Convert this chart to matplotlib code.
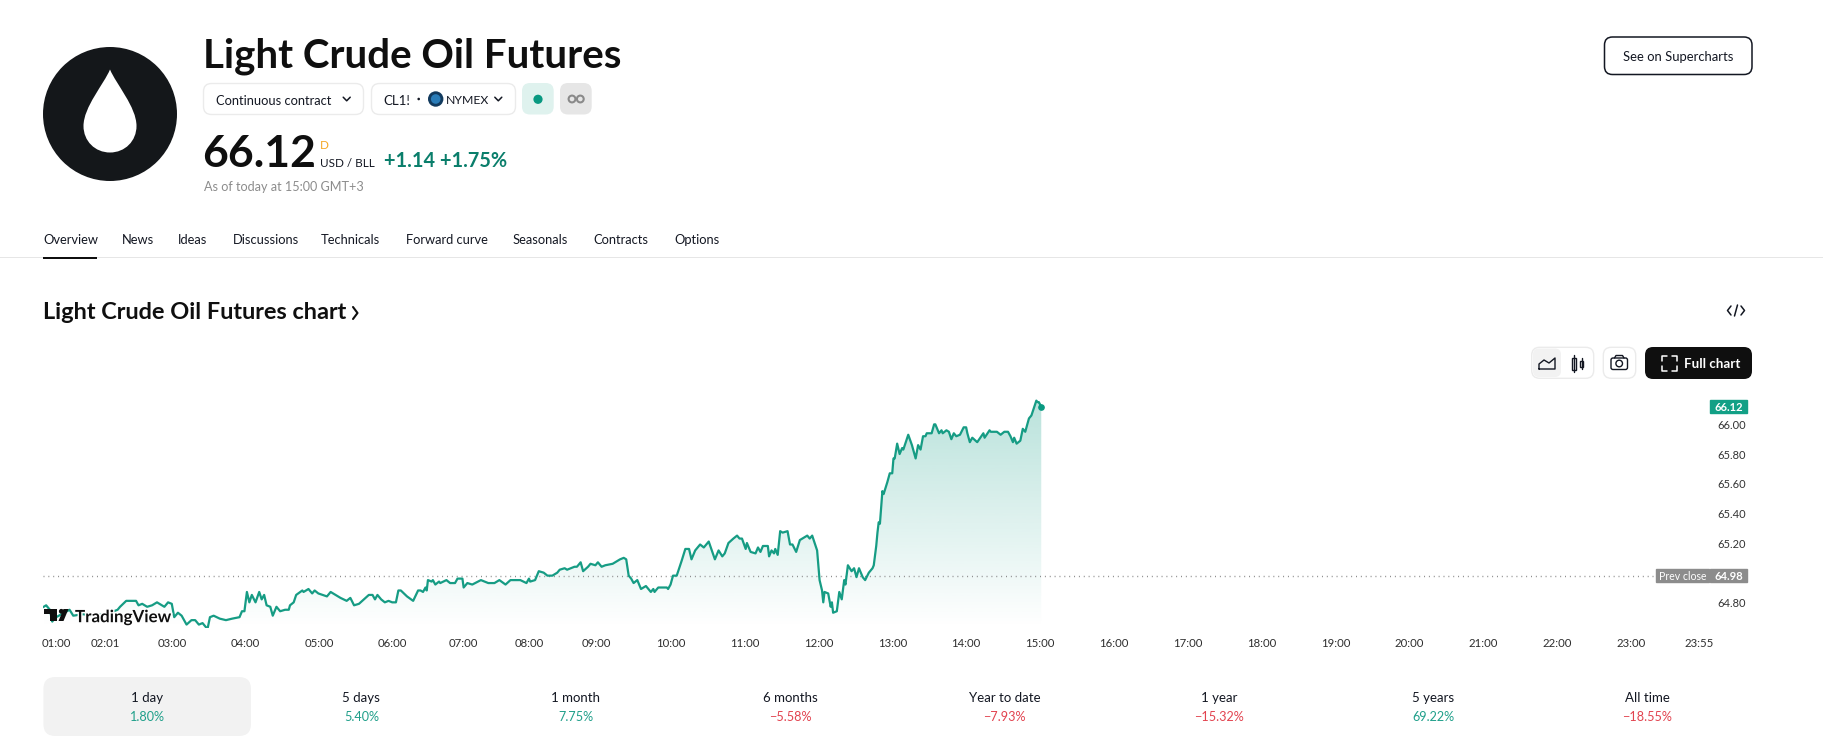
import matplotlib
matplotlib.use("Agg")
import matplotlib.pyplot as plt
import matplotlib.patheffects as pe
from matplotlib.patches import Circle, FancyBboxPatch, PathPatch, Polygon, Rectangle
from matplotlib.path import Path
import numpy as np

plt.rcParams['font.family'] = ['Lato', 'DejaVu Sans']

W, H = 1823, 753

# 1 minute bars, session gaps are left out so the index is not the clock
bar_index = [
    -10, -8, -5, -3, -2, 11, 14, 22, 30, 40, 47, 50, 52, 57, 61, 65, 67, 70, 74, 78, 82, 86, 88, 91, 94, 96, 99, 102,
    106, 110, 113, 116, 119, 123, 125, 128, 133, 138, 143, 149, 151, 153, 155, 157, 159, 162, 165, 167, 169, 171, 174,
    176, 179, 182, 186, 189,
    190, 193, 195, 200, 201, 205, 208, 210, 213, 220, 223, 231, 236, 239, 242, 246, 254, 257, 259, 261, 264, 267, 270,
    273, 276, 278, 280, 285, 290, 294, 296, 298, 300, 301, 302, 305, 306, 308, 311, 312, 317, 320, 324, 326, 330, 331,
    334, 338, 345, 351, 356, 360, 365, 369, 373, 377, 382, 384, 385, 389, 392, 396,
    399, 403, 407, 409, 413, 415, 421, 423, 426, 428, 432, 434, 438, 440, 443, 446, 452, 458, 461, 463, 465, 467, 469,
    472, 475, 479, 483, 485, 486, 489, 496, 497, 499, 501, 504, 508, 511, 514, 516, 519, 523, 526, 530, 535, 538, 541,
    543, 546, 550, 553, 555, 557, 560, 561, 564, 568, 570, 572, 574, 578, 579, 581, 583, 584, 586, 588, 590, 594, 596,
    598, 601,
    604, 606, 610, 612, 614, 618, 620, 622, 623, 624, 627, 629, 630, 631, 634, 636, 638, 640, 641, 643, 646, 648, 650,
    652, 655, 657, 660, 663,
    664, 666, 667, 668, 669, 671, 672, 675, 677, 679, 680, 681, 683, 685, 687, 688, 692, 695, 698, 700, 702, 704, 706,
    707, 709, 711, 713, 714, 717, 719, 720, 723, 725, 727, 729, 731, 734, 737, 739, 740, 742, 744, 748, 753, 754, 758,
    759, 764, 767, 770, 773, 775, 777, 778, 780, 783, 785, 787, 790, 792, 796, 797, 798, 800,
]
close_price = [
    64.77, 64.78, 64.75, 64.67, 64.69, 64.75, 64.71, 64.72, 64.71, 64.72, 64.74, 64.75, 64.77, 64.81, 64.81, 64.81,
    64.78, 64.79, 64.77, 64.78, 64.80, 64.78, 64.77, 64.80, 64.79, 64.70, 64.73, 64.71, 64.65, 64.68, 64.68, 64.65,
    64.66, 64.62, 64.70, 64.71, 64.69, 64.68, 64.69, 64.70, 64.74, 64.74, 64.87, 64.80, 64.85, 64.80, 64.87, 64.82,
    64.85, 64.78, 64.77, 64.71, 64.77, 64.74, 64.75, 64.75,
    64.78, 64.80, 64.85, 64.88, 64.87, 64.89, 64.86, 64.88, 64.86, 64.84, 64.87, 64.83, 64.81, 64.83, 64.78, 64.79,
    64.85, 64.85, 64.82, 64.85, 64.82, 64.80, 64.81, 64.80, 64.80, 64.88, 64.88, 64.84, 64.81, 64.88, 64.88, 64.87,
    64.90, 64.88, 64.95, 64.94, 64.95, 64.92, 64.94, 64.93, 64.95, 64.93, 64.93, 64.96, 64.96, 64.90, 64.93, 64.92,
    64.95, 64.93, 64.93, 64.95, 64.92, 64.95, 64.95, 64.95, 64.93, 64.96, 64.94, 64.95, 65.01, 65.00,
    64.98, 64.98, 65.00, 65.02, 65.03, 65.02, 65.04, 65.04, 65.07, 65.01, 65.04, 65.06, 65.05, 65.07, 65.04, 65.05,
    65.06, 65.09, 65.10, 65.09, 64.98, 64.96, 64.93, 64.95, 64.89, 64.91, 64.87, 64.89, 64.87, 64.90, 64.90, 64.89,
    64.92, 64.98, 64.98, 65.08, 65.16, 65.16, 65.09, 65.15, 65.19, 65.17, 65.21, 65.09, 65.15, 65.11, 65.13, 65.20,
    65.23, 65.25, 65.23, 65.23, 65.16, 65.20, 65.14, 65.13, 65.17, 65.14, 65.18, 65.18, 65.11, 65.15, 65.13, 65.16,
    65.12, 65.28, 65.27, 65.28, 65.19, 65.19, 65.14,
    65.22, 65.23, 65.25, 65.23, 65.25, 65.15, 64.95, 64.88, 64.80, 64.87, 64.86, 64.77, 64.80, 64.73, 64.74, 64.87,
    64.82, 64.95, 64.92, 65.05, 65.01, 65.03, 64.97, 65.03, 64.97, 64.95, 65.00, 65.03,
    65.05, 65.18, 65.27, 65.34, 65.33, 65.55, 65.53, 65.61, 65.67, 65.67, 65.77, 65.77, 65.87, 65.80, 65.84, 65.83,
    65.93, 65.86, 65.77, 65.86, 65.83, 65.92, 65.92, 65.94, 65.94, 65.94, 66.00, 66.00, 65.94, 65.96, 65.94, 65.96,
    65.95, 65.90, 65.94, 65.92, 65.93, 65.98, 65.98, 65.94, 65.88, 65.91, 65.88, 65.94, 65.91, 65.96, 65.95, 65.95,
    65.93, 65.95, 65.95, 65.92, 65.88, 65.91, 65.87, 65.89, 65.97, 65.95, 66.04, 66.06, 66.16, 66.15, 66.15, 66.12,
]

tick_bars = [0, 40, 94, 154, 214, 273, 331, 384, 439, 499, 559, 619, 679, 739, 799, 859, 919, 979, 1039, 1099, 1159,
             1219, 1279, 1334]
tick_times = ['01:00', '02:01', '03:00', '04:00', '05:00', '06:00', '07:00', '08:00', '09:00', '10:00', '11:00',
              '12:00', '13:00', '14:00', '15:00', '16:00', '17:00', '18:00', '19:00', '20:00', '21:00', '22:00',
              '23:00', '23:55']
price_ticks = [64.80, 65.20, 65.40, 65.60, 65.80, 66.00]
prev_close = 64.98
last_price = 66.12

tabs = ['Overview', 'News', 'Ideas', 'Discussions', 'Technicals', 'Forward curve', 'Seasonals', 'Contracts', 'Options']
tab_x = [43, 122, 177.5, 232.5, 321, 405.5, 513, 593.5, 674]

periods = ['1 day', '5 days', '1 month', '6 months', 'Year to date', '1 year', '5 years', 'All time']
period_changes = ['1.80%', '5.40%', '7.75%', '\u22125.58%', '\u22127.93%', '\u221215.32%', '69.22%', '\u221218.55%']

TEAL = '#089981'
DARK = '#0f0f0f'
GREEN_TXT = '#1f9f8a'
RED_TXT = '#e2434f'

fig = plt.figure(figsize=(W / 100, H / 100), dpi=100, facecolor='white')


def px_axes(left, right, top, bottom):
    return [left / W, 1 - bottom / H, (right - left) / W, (bottom - top) / H]


# price chart, x in bars and y in dollars
chart = fig.add_axes(px_axes(43, 1710, 395, 628), zorder=1)
chart.patch.set_alpha(0)
for s in chart.spines.values():
    s.set_visible(False)

xlim = (-10.56, 1343)
ylim = (64.627, 66.198)

line_fill = chart.fill_between(bar_index, close_price, ylim[0], color='none')
grad = np.zeros((256, 1, 4))
grad[:, 0, :3] = matplotlib.colors.to_rgb(TEAL)
grad[:, 0, 3] = np.linspace(0.28, 0.0, 256)
im = chart.imshow(grad, extent=(bar_index[0], bar_index[-1], ylim[0], 66.16), aspect='auto', origin='upper', zorder=1)
im.set_clip_path(line_fill.get_paths()[0], transform=chart.transData)

chart.plot(bar_index, close_price, color='#169c84', lw=1.6, solid_joinstyle='round', zorder=3)
chart.plot(bar_index[-1], close_price[-1], 'o', color=TEAL, ms=3.8, zorder=4)
chart.hlines(prev_close, xlim[0], 1299, color='#8a8a8a', lw=1, linestyles=(0, (0.7, 2.8)), zorder=2)

chart.set_xlim(*xlim)
chart.set_ylim(*ylim)
chart.set_xticks(tick_bars, tick_times)
chart.set_yticks(price_ticks, [f'{v:.2f}' for v in price_ticks])
chart.yaxis.tick_right()
chart.tick_params(axis='x', length=0, pad=7, labelsize=8.2, labelcolor='#2e2e2e')
chart.tick_params(axis='y', length=0, pad=5.6, labelsize=8, labelcolor='#333333')

# price scale labels follow the values
ytr = chart.get_yaxis_transform()
chart.add_patch(Rectangle((1.0, last_price - 0.046), 0.0222, 0.092, transform=ytr, color='#12a086', clip_on=False))
chart.text(1.0111, last_price, f'{last_price:.2f}', transform=ytr, color='white', fontsize=8, fontweight='bold',
           ha='center', va='center_baseline')
chart.add_patch(Rectangle((1.0, prev_close - 0.046), 0.0222, 0.092, transform=ytr, color='#8c8c8c', clip_on=False))
chart.add_patch(Rectangle((0.9676, prev_close - 0.046), 0.0318, 0.092, transform=ytr, color='#8c8c8c', clip_on=False))
chart.text(1.0111, prev_close, f'{prev_close:.2f}', transform=ytr, color='white', fontsize=8, fontweight='bold',
           ha='center', va='center_baseline')
chart.text(0.9835, prev_close, 'Prev close', transform=ytr, color='white', fontsize=7.6, ha='center',
           va='center_baseline')

# everything around the chart, in page pixels
page = fig.add_axes([0, 0, 1, 1], zorder=2)
page.set_xlim(0, W)
page.set_ylim(H, 0)
page.axis('off')
page.patch.set_alpha(0)


def box(x0, y0, x1, y1, r=8, fc='white', ec='none', lw=1.0):
    page.add_patch(FancyBboxPatch((x0 + r, y0 + r), x1 - x0 - 2 * r, y1 - y0 - 2 * r,
                                  boxstyle=f'round,pad={r},rounding_size={r}', fc=fc, ec=ec, lw=lw))


def label(x, y, s, size=9.5, color=DARK, ha='left', weight='normal', va='center_baseline'):
    return page.text(x, y, s, fontsize=size, color=color, ha=ha, va=va, fontweight=weight)


def stroke(xs, ys, color='#131722', lw=1.1):
    page.plot(xs, ys, color=color, lw=lw, solid_capstyle='round', solid_joinstyle='round')


def chevron(x, y):
    stroke([x - 3.5, x, x + 3.5], [y - 1.8, y + 1.8, y - 1.8])


# logo
page.add_patch(Circle((110, 114), 67, fc='#14171a', ec='none'))
drop = Path(
    [(110, 69.5), (116, 84), (136.5, 107), (136.5, 126), (136.5, 141), (125, 152.5), (110, 152.5),
     (95, 152.5), (83.5, 141), (83.5, 126), (83.5, 107), (104, 84), (110, 69.5)],
    [Path.MOVETO] + [Path.CURVE4] * 12)
page.add_patch(PathPatch(drop, fc='white', ec='none'))

label(203, 67, 'Light Crude Oil Futures', size=29, weight='bold', va='baseline', color='#0f0f0f')

box(203.5, 83.5, 363.5, 114.5, ec='#ebebeb')
label(216, 99.5, 'Continuous contract', size=9.3, color='#131722')
chevron(346.7, 99)
box(371.5, 83.5, 515.5, 114.5, ec='#ebebeb')
label(383.5, 99.5, 'CL1!', size=9.5, color='#131722')
page.add_patch(Circle((418.7, 99), 1.3, fc='#131722'))
page.add_patch(Circle((435.7, 99), 7.7, fc='#123a5e'))
page.add_patch(Circle((435.7, 99), 4.8, fc='#2a7cb8'))
label(446, 99.5, 'NYMEX', size=8.8, color='#131722')
chevron(498.3, 99)
box(522, 83, 553.7, 114.5, fc='#dff2ee')
page.add_patch(Circle((538, 99.3), 4.6, fc=TEAL))
box(560, 83, 591.7, 114.5, fc='#e6e6e6')
for cx in (572, 580.3):
    page.add_patch(Circle((cx, 99), 3.4, fc='none', ec='#8a8a8a', lw=1.5))

label(202.5, 166.7, '66.12', size=32, weight='bold', va='baseline', color='#0f0f0f')
label(319.5, 144, 'D', size=8.5, color='#f5a623')
label(319.5, 166.7, 'USD / BLL', size=8.4, va='baseline', color='#131722')
label(384, 166.7, '+1.14 +1.75%', size=14.3, va='baseline', color='#0a7e6b', weight='bold')
label(203.5, 186, 'As of today at 15:00 GMT+3', size=9.1, color='#8c8c8c')

box(1604.5, 37, 1752, 74.5, ec='#131722', lw=1.1)
label(1678, 55.5, 'See on Supercharts', size=9.4, ha='center', color='#131722')

# tabs
for x, name in zip(tab_x, tabs):
    label(x, 238.7, name, size=9.3, color='#131722')
page.add_patch(Rectangle((0, 256.5), W, 1.2, fc='#e6e6e6', ec='none'))
page.add_patch(Rectangle((43, 256.5), 54, 2.6, fc='#0f0f0f', ec='none'))

label(43, 319, 'Light Crude Oil Futures chart', size=16.9, weight='bold', va='baseline', color='#0f0f0f')
stroke([353, 357.5, 353], [307, 313, 319], color='#0f0f0f', lw=1.5)
# embed icon
stroke([1731, 1727.5, 1731], [306, 310.5, 315])
stroke([1741, 1744.5, 1741], [306, 310.5, 315])
stroke([1734.5, 1737.5], [316, 305])

# chart toolbar
box(1531.7, 347.3, 1593.7, 378.3, ec='#ebebeb')
box(1533, 348.5, 1561, 377, r=6, fc='#f2f2f2')
stroke([1539, 1539, 1544, 1549, 1555, 1555, 1539], [369, 364, 360, 363, 358, 369, 369], lw=1.0)
for cx, y0, y1 in ((1574, 355, 372), (1581.5, 358, 369)):
    stroke([cx, cx], [y0, y1], lw=1.0)
    page.add_patch(Rectangle((cx - 1.8, y0 + 2.5), 3.6, y1 - y0 - 5, fc='white', ec='#131722', lw=1.0))
box(1603.3, 347.3, 1635.7, 378.3, ec='#ebebeb')
box(1611, 358, 1627.5, 369.5, r=2, ec='#131722', lw=1.0)
stroke([1614.5, 1616, 1622.5, 1624], [358, 355.5, 355.5, 358], lw=1.0)
page.add_patch(Circle((1619.2, 363.5), 3.3, fc='white', ec='#131722', lw=1.0))

box(1645, 347, 1752, 379, fc='#0f0f0f')
for sx, sy in ((-1, -1), (1, -1), (-1, 1), (1, 1)):
    stroke([1669 + sx * 2.5, 1669 + sx * 7.5, 1669 + sx * 7.5], [363 + sy * 7.5, 363 + sy * 7.5, 363 + sy * 2.5],
           color='white', lw=1.1)
label(1684, 363, 'Full chart', size=9.6, color='white', weight='bold')

# TradingView mark over the line
halo = [pe.withStroke(linewidth=2, foreground='white')]
page.add_patch(Polygon([(44, 609), (57, 609), (57, 621), (50, 621), (50, 613.5), (44, 613.5)], fc='#0f0f0f', ec='none'))
page.add_patch(Circle((61.3, 611.3), 2.4, fc='#0f0f0f'))
page.add_patch(Polygon([(58.5, 621), (63.5, 609), (68.5, 609), (63.5, 621)], fc='#0f0f0f', ec='none'))
mark = label(75, 615.7, 'TradingView', size=12.2, weight='bold', color='#0f0f0f')
mark.set_path_effects(halo)

# period cards
box(43.4, 677, 251, 736, r=12, fc='#f2f2f2')
for i, (name, chg) in enumerate(zip(periods, period_changes)):
    cx = 147 + 214.35 * i
    label(cx, 696.7, name, size=9.5, ha='center', color='#131722')
    label(cx, 716, chg, size=9.1, ha='center', color=RED_TXT if chg.startswith('\u2212') else GREEN_TXT)

fig.savefig('out.png', dpi=100, facecolor='white')
